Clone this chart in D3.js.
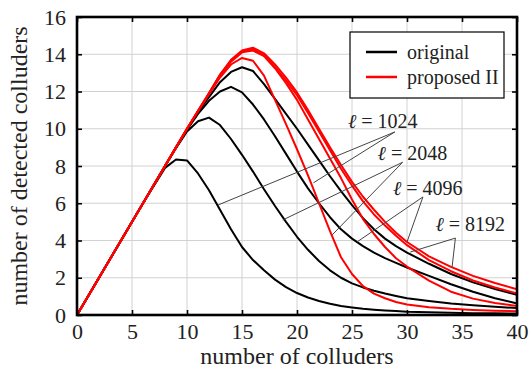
<!DOCTYPE html>
<html>
<head>
<meta charset="utf-8">
<script src="https://cdn.jsdelivr.net/npm/d3@7"></script>
<style>
  body { margin: 0; background: #fff; }
  text { font-family: "Liberation Serif", "DejaVu Serif", serif; fill: #222; }
</style>
</head>
<body>
<div class="chartContainer"></div>
<script>
// number of colluders (x samples shared by every curve)
const colluders = [0, 2, 4, 6, 8, 9, 10, 11, 12, 13, 14, 15, 16, 17, 18, 19, 20, 21, 22, 23, 24, 25, 26, 27, 28, 29, 30, 32, 34, 36, 38, 40];

// original scheme, detected colluders
const orig1024 = [0, 2, 4, 6, 7.9, 8.35, 8.3, 7.6, 6.7, 5.65, 4.6, 3.65, 2.95, 2.4, 1.9, 1.5, 1.18, 0.94, 0.75, 0.6, 0.48, 0.4, 0.33, 0.28, 0.24, 0.21, 0.18, 0.15, 0.12, 0.1, 0.09, 0.08];
const orig2048 = [0, 2, 4, 6, 8, 8.95, 9.85, 10.4, 10.6, 10.2, 9.45, 8.6, 7.7, 6.75, 5.85, 5.0, 4.2, 3.5, 2.9, 2.4, 2.0, 1.7, 1.48, 1.3, 1.15, 1.02, 0.9, 0.75, 0.62, 0.52, 0.44, 0.37];
const orig4096 = [0, 2, 4, 6, 8, 9, 9.95, 10.8, 11.5, 12.0, 12.25, 11.95, 11.3, 10.5, 9.6, 8.65, 7.7, 6.8, 6.0, 5.25, 4.6, 4.1, 3.7, 3.35, 3.05, 2.8, 2.55, 2.1, 1.65, 1.25, 0.9, 0.62];
const orig8192 = [0, 2, 4, 6, 8, 9, 9.95, 10.9, 11.7, 12.5, 13.05, 13.3, 13.1, 12.4, 11.6, 10.8, 10.0, 9.15, 8.3, 7.45, 6.65, 5.9, 5.2, 4.6, 4.1, 3.7, 3.35, 2.75, 2.2, 1.75, 1.4, 1.08];

// proposed II scheme
const prop1024 = [0, 2, 4, 6, 8, 9, 10, 10.95, 11.85, 12.75, 13.45, 13.8, 13.65, 12.85, 11.55, 10.25, 8.9, 7.5, 6.0, 4.5, 3.1, 2.2, 1.55, 1.15, 0.9, 0.7, 0.56, 0.42, 0.33, 0.27, 0.23, 0.2];
const prop2048 = [0, 2, 4, 6, 8, 9, 10, 10.95, 11.9, 12.85, 13.6, 14.1, 14.2, 13.9, 13.25, 12.45, 11.55, 10.5, 9.45, 8.4, 7.35, 6.2, 5.15, 4.35, 3.65, 3.05, 2.6, 1.85, 1.25, 0.88, 0.64, 0.48];
const prop4096 = [0, 2, 4, 6, 8, 9, 10, 10.95, 11.9, 12.9, 13.65, 14.15, 14.28, 13.95, 13.3, 12.6, 11.8, 10.85, 9.85, 8.85, 7.85, 6.95, 6.1, 5.4, 4.8, 4.25, 3.75, 2.95, 2.35, 1.85, 1.48, 1.16];
const prop8192 = [0, 2, 4, 6, 8, 9, 10, 10.95, 11.9, 12.9, 13.7, 14.2, 14.35, 14.05, 13.45, 12.75, 11.95, 11.0, 10.0, 9.0, 8.05, 7.15, 6.35, 5.65, 5.0, 4.42, 3.92, 3.15, 2.58, 2.1, 1.72, 1.38];

const xTicks = [0, 5, 10, 15, 20, 25, 30, 35, 40];
const yTicks = [0, 2, 4, 6, 8, 10, 12, 14, 16];
const legendNames = ['original', 'proposed II'];
const legendColors = ['#000', '#f00'];

// code length labels and where their pointer lines start / end (data units)
const ellLabels = ['1024', '2048', '4096', '8192'];
const ellAnchors = [[28.9, 9.83], [29.6, 8.2], [31.45, 6.34], [34.4, 4.13]];
const ellTargets = [
  [[12.8, 5.9], [21.5, 7.1]],
  [[18.7, 5.1], [23.2, 4.3]],
  [[25.45, 3.92], [30.0, 3.92]],
  [[30.3, 3.38], [34.1, 2.58]]
];
// text offset from the anchor, px
const ellOffsets = [[-47, -4], [-25, -2], [-30, -2], [-20, -7]];

const W = 532, H = 374;
const margin = { left: 77, top: 17, right: 15, bottom: 59 };

const svg = d3.select('.chartContainer')
  .append('svg')
  .attr('width', W)
  .attr('height', H);

const x = d3.scaleLinear().domain([0, 40]).range([margin.left, W - margin.right]);
const y = d3.scaleLinear().domain([0, 16]).range([H - margin.bottom, margin.top]);

// grid
const grid = svg.append('g');
grid.selectAll('.gx').data(xTicks).enter().append('line')
  .attr('x1', d => x(d)).attr('x2', d => x(d))
  .attr('y1', y(0)).attr('y2', y(16))
  .attr('stroke', '#d2d2d2').attr('stroke-width', 1);
grid.selectAll('.gy').data(yTicks).enter().append('line')
  .attr('x1', x(0)).attr('x2', x(40))
  .attr('y1', d => y(d)).attr('y2', d => y(d))
  .attr('stroke', '#d2d2d2').attr('stroke-width', 1);

const line = d3.line()
  .x((d, i) => x(colluders[i]))
  .y(d => y(d));

const curves = svg.append('g').attr('fill', 'none').attr('stroke-width', 2).attr('stroke-linejoin', 'round');
[orig1024, orig2048, orig4096, orig8192].forEach(s => {
  curves.append('path').attr('d', line(s)).attr('stroke', '#000');
});
[prop1024, prop2048, prop4096, prop8192].forEach(s => {
  curves.append('path').attr('d', line(s)).attr('stroke', '#f00');
});

// pointer lines + labels
const notes = svg.append('g');
ellLabels.forEach((lab, i) => {
  const a = ellAnchors[i];
  ellTargets[i].forEach(t => {
    notes.append('line')
      .attr('x1', x(a[0])).attr('y1', y(a[1]))
      .attr('x2', x(t[0])).attr('y2', y(t[1]))
      .attr('stroke', '#444').attr('stroke-width', 1);
  });
  const txt = notes.append('text')
    .attr('x', x(a[0]) + ellOffsets[i][0]).attr('y', y(a[1]) + ellOffsets[i][1])
    .style('font-size', '20px');
  txt.append('tspan').style('font-style', 'italic').text('\u2113');
  txt.append('tspan').text(' = ' + lab);
});

// frame with inward ticks
const axes = svg.append('g');
axes.append('g').attr('transform', `translate(0,${y(0)})`)
  .call(d3.axisBottom(x).tickValues(xTicks).tickSize(-5).tickPadding(8).tickFormat(d3.format('d')));
axes.append('g').attr('transform', `translate(0,${y(16)})`)
  .call(d3.axisTop(x).tickValues(xTicks).tickSize(-5).tickFormat(''));
axes.append('g').attr('transform', `translate(${x(0)},0)`)
  .call(d3.axisLeft(y).tickValues(yTicks).tickSize(-5).tickPadding(11).tickFormat(d3.format('d')));
axes.append('g').attr('transform', `translate(${x(40)},0)`)
  .call(d3.axisRight(y).tickValues(yTicks).tickSize(-5).tickFormat(''));
axes.selectAll('.domain').remove();
axes.selectAll('.tick line').attr('stroke', '#000').attr('stroke-width', 1.6);
axes.selectAll('.tick text')
  .style('font-family', '"Liberation Serif", serif')
  .style('font-size', '22px')
  .attr('fill', '#222');
svg.append('rect')
  .attr('x', x(0)).attr('y', y(16))
  .attr('width', x(40) - x(0)).attr('height', y(0) - y(16))
  .attr('fill', 'none').attr('stroke', '#000').attr('stroke-width', 2.6);

// legend
const leg = svg.append('g').attr('transform', 'translate(350,32)');
leg.append('rect').attr('width', 154).attr('height', 66)
  .attr('fill', '#fff').attr('stroke', '#000').attr('stroke-width', 1.2);
legendNames.forEach((n, i) => {
  leg.append('line').attr('x1', 16).attr('x2', 47)
    .attr('y1', 20 + i * 25).attr('y2', 20 + i * 25)
    .attr('stroke', legendColors[i]).attr('stroke-width', 2.5);
  leg.append('text').attr('x', 57).attr('y', 27 + i * 25)
    .style('font-size', '20px').text(n);
});

// axis titles
svg.append('text')
  .attr('x', (x(0) + x(40)) / 2).attr('y', 364)
  .attr('text-anchor', 'middle')
  .style('font-size', '24px')
  .text('number of colluders');
svg.append('text')
  .attr('transform', `translate(27,${(y(0) + y(16)) / 2}) rotate(-90)`)
  .attr('text-anchor', 'middle')
  .style('font-size', '24px')
  .text('number of detected colluders');
</script>
</body>
</html>
